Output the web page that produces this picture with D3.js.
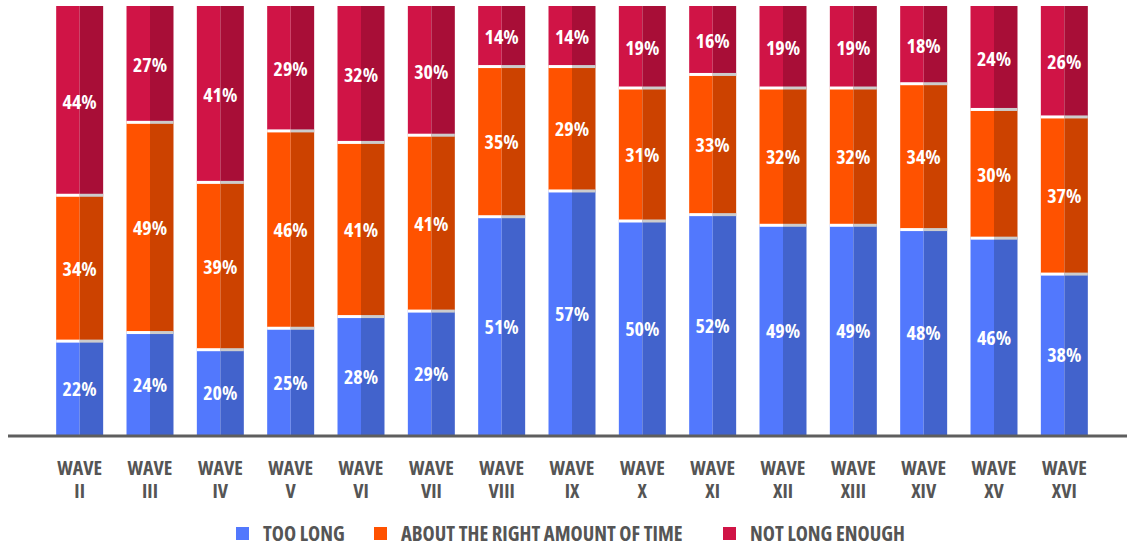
<!DOCTYPE html>
<html>
<head>
<meta charset="utf-8">
<script src="https://cdn.jsdelivr.net/npm/d3@7"></script>
<style>
  html, body { margin: 0; padding: 0; background: #fff; }
  svg { display: block; }
  text { font-family: "Open Sans", "DejaVu Sans Condensed", sans-serif; font-weight: 700; font-stretch: condensed; }
</style>
</head>
<body>
<svg id="chart" width="1127" height="546"></svg>
<script>
const categories = ["WAVE II","WAVE III","WAVE IV","WAVE V","WAVE VI","WAVE VII","WAVE VIII","WAVE IX","WAVE X","WAVE XI","WAVE XII","WAVE XIII","WAVE XIV","WAVE XV","WAVE XVI"];
const tooLong = [22,24,20,25,28,29,51,57,50,52,49,49,48,46,38];
const aboutRight = [34,49,39,46,41,41,35,29,31,33,32,32,34,30,37];
const notLongEnough = [44,27,41,29,32,30,14,14,19,16,19,19,18,24,26];
const seriesNames = ["TOO LONG","ABOUT THE RIGHT AMOUNT OF TIME","NOT LONG ENOUGH"];
const colorsLight = ["#5278FD","#FF5200","#D01446"];
const colorsDark = ["#4263CC","#CC4200","#A80E37"];

const svg = d3.select("#chart");
const W = 1127, H = 546;
const baseY = 435, topY = 6;

const x = d3.scaleBand().domain(categories).range([44.5, 1099.5]).paddingInner(0.332).paddingOuter(0.166);
const y = d3.scaleLinear().domain([0, 1]).range([baseY, topY]);

const rows = categories.map((c, i) => ({cat: c, s0: tooLong[i], s1: aboutRight[i], s2: notLongEnough[i]}));
const keys = ["s0","s1","s2"];
const stack = d3.stack().keys(keys).offset(d3.stackOffsetExpand);
const stacked = stack(rows);

const g = svg.append("g");
stacked.forEach((layer, li) => {
  const lg = g.append("g");
  layer.forEach((d, i) => {
    const bx = x(d.data.cat), bw = x.bandwidth();
    const y0 = y(d[0]), y1 = y(d[1]);
    lg.append("rect").attr("x", bx).attr("y", y1).attr("width", bw / 2).attr("height", y0 - y1).attr("fill", colorsLight[li]);
    lg.append("rect").attr("x", bx + bw / 2).attr("y", y1).attr("width", bw / 2).attr("height", y0 - y1).attr("fill", colorsDark[li]);
  });
});
// separators at tops of lower segments
stacked.forEach((layer, li) => {
  if (li === stacked.length - 1) return;
  layer.forEach(d => {
    const bx = x(d.data.cat), bw = x.bandwidth();
    const yt = y(d[1]);
    g.append("rect").attr("x", bx).attr("y", yt - 1).attr("width", bw / 2).attr("height", 3).attr("fill", "#ffffff");
    g.append("rect").attr("x", bx + bw / 2).attr("y", yt - 1).attr("width", bw / 2).attr("height", 3).attr("fill", "#cccccc");
  });
});
// value labels
stacked.forEach((layer, li) => {
  const k = keys[li];
  layer.forEach(d => {
    const cx = x(d.data.cat) + x.bandwidth() / 2;
    const cy = (y(d[0]) + y(d[1])) / 2;
    g.append("text").attr("x", cx).attr("y", cy + 1).attr("dy", "0.36em").attr("text-anchor", "middle")
      .attr("fill", "#fff").attr("font-size", 20).text(d.data[k] + "%");
  });
});

// axis line
svg.append("rect").attr("x", 8).attr("y", baseY - 0.5).attr("width", W - 8).attr("height", 3).attr("fill", "#5e5e5e");

// x labels via axis
const xAxis = d3.axisBottom(x).tickSize(0).tickPadding(0);
const ax = svg.append("g").attr("transform", `translate(0,${baseY})`).call(xAxis);
ax.select(".domain").remove();
ax.selectAll(".tick text").each(function(d) {
  const t = d3.select(this);
  const parts = d.split(" ");
  t.text(null).attr("y", 0).attr("dy", null)
    .attr("fill", "#555").attr("font-size", 20).attr("font-family", null);
  t.append("tspan").attr("x", 0).attr("y", 40).text(parts[0]);
  t.append("tspan").attr("x", 0).attr("y", 63).text(parts[1]);
});

// legend
const legendX = [236, 374, 723];
const leg = svg.append("g");
seriesNames.forEach((n, i) => {
  leg.append("rect").attr("x", legendX[i]).attr("y", 527).attr("width", 13).attr("height", 13).attr("fill", colorsLight[i]);
  leg.append("text").attr("x", legendX[i] + 27).attr("y", 540.5).attr("fill", "#555").attr("font-size", 20.5).text(n);
});
</script>
</body>
</html>
